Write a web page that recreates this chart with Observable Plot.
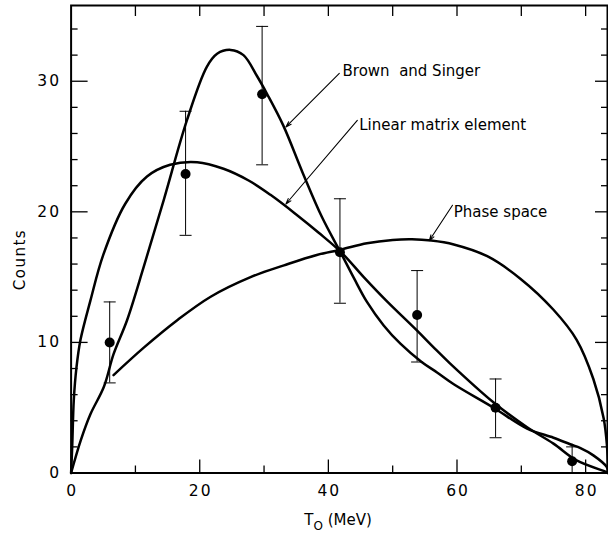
<!DOCTYPE html>
<html><head><meta charset="utf-8">
<script src="https://cdn.jsdelivr.net/npm/d3@7"></script>
<script src="https://cdn.jsdelivr.net/npm/@observablehq/plot@0.6"></script>
<style>
body{margin:0;background:#fff;}
#chart svg{display:block;}
</style></head><body><div id="chart"></div>
<script>
// Brown and Singer curve
const bsX = [0, 1.5, 3.0, 5.1, 6.6, 8.7, 11.3, 14.4, 18.0, 21.1, 22.7, 24.8, 26.8, 28.9, 30.5, 33.0, 36.0, 39.0, 42.0, 44.0, 46.0, 48.6, 51.2, 54.5, 56.9, 59.5, 65.7, 70.9, 75.0, 77.6, 79.2, 81.2, 83.3, 83.5];
const bsY = [0, 2.5, 4.5, 6.6, 9.1, 11.7, 15.8, 20.9, 27.0, 31.1, 32.1, 32.4, 32.0, 30.4, 29.0, 26.6, 23.0, 19.6, 16.8, 14.9, 13.1, 11.3, 9.9, 8.5, 7.7, 6.8, 5.0, 3.4, 2.7, 2.2, 1.9, 1.35, 0.45, 0];
// Linear matrix element curve
const lmX = [0, 0.17, 0.42, 0.84, 1.46, 3.0, 5.0, 8.4, 11.8, 15.4, 19.6, 23.7, 27.6, 31.0, 35.0, 38.5, 42.0, 45.5, 49.0, 53.8, 56.4, 58.9, 65.7, 70.9, 75.0, 78.6, 83.3, 83.5];
const lmY = [0, 2.0, 5.6, 8.1, 10.2, 13.2, 16.7, 20.6, 22.7, 23.6, 23.8, 23.3, 22.4, 21.3, 19.8, 18.4, 16.9, 15.0, 13.2, 10.9, 9.6, 8.4, 5.4, 3.5, 2.25, 0.96, 0.06, 0];
// Phase space curve
const psX = [6.6, 11.3, 16.5, 21.7, 27.9, 33.1, 38.2, 41.9, 46.0, 50.0, 53.0, 56.0, 59.5, 64.7, 69.8, 75.0, 78.6, 81.2, 82.8, 83.3, 83.5];
const psY = [7.5, 9.6, 11.7, 13.5, 15.0, 15.9, 16.7, 17.1, 17.6, 17.85, 17.9, 17.8, 17.5, 16.6, 14.9, 12.5, 10.2, 7.2, 4.2, 2.2, 0];

// Measured counts with error bars
const pointX = [6, 17.8, 29.7, 41.8, 53.8, 66, 77.9];
const pointY = [10, 22.9, 29, 16.9, 12.1, 5, 0.9];
const errLo = [6.9, 18.2, 23.6, 13.0, 8.5, 2.7, 0];
const errHi = [13.1, 27.7, 34.2, 21.0, 15.5, 7.2, 2.0];

// Annotations
const noteText = ["Brown  and Singer", "Linear matrix element", "Phase space"];
const noteX = [42.2, 44.8, 59.5];
const noteY = [30.8, 26.6, 20.0];
const arrowX1 = [41.7, 44.5, 59.3];
const arrowY1 = [30.6, 27.0, 20.5];
const arrowX2 = [33.4, 33.4, 55.7];
const arrowY2 = [26.5, 20.6, 17.8];

// Ticks
const xLabelTicks = [0, 20, 40, 60, 80];
const xMajorTicks = [20, 40, 60, 80];
const xMinorTicks = [10, 30, 50, 70];
const xTopTicks = [10, 20, 30, 40, 50, 60, 70, 80];
const yLabelTicks = [0, 10, 20, 30];
const yMajorTicks = [10, 20, 30];
const yMinorTicks = [2, 4, 6, 8, 12, 14, 16, 18, 22, 24, 26, 28, 32, 34];

const curve = (xs, ys) => xs.map((x, i) => ({x, y: ys[i]}));
const bs = curve(bsX, bsY);
const lm = curve(lmX, lmY);
const ps = curve(psX, psY);
const points = pointX.map((x, i) => ({x, y: pointY[i], lo: errLo[i], hi: errHi[i]}));
const notes = noteText.map((t, i) => ({t, x: noteX[i], y: noteY[i], x1: arrowX1[i], y1: arrowY1[i], x2: arrowX2[i], y2: arrowY2[i]}));

const W = 608, H = 536, mL = 70.6, mR = 1, mT = 5, mB = 63.5;
const fw = W - mL - mR, fh = H - mT - mB;
const FONT = "DejaVu Sans";
const capSymbol = {draw(ctx) { ctx.moveTo(-6, 0); ctx.lineTo(6, 0); }};

const plot = Plot.plot({
  width: W, height: H,
  marginLeft: mL, marginRight: mR, marginTop: mT, marginBottom: mB,
  x: {domain: [0, 83.4], axis: null},
  y: {domain: [0, 35.8], axis: null},
  style: {fontFamily: FONT, fontSize: "15px", background: "white", color: "black"},
  marks: [
    // inward ticks
    Plot.tickX(xMajorTicks, {x: d => d, insetTop: fh - 13, stroke: "black", strokeWidth: 1.3}),
    Plot.tickX(xMinorTicks, {x: d => d, insetTop: fh - 7, stroke: "black", strokeWidth: 1.3}),
    Plot.tickX(xTopTicks, {x: d => d, insetBottom: fh - 11, stroke: "black", strokeWidth: 1.3}),
    Plot.tickY(yMajorTicks, {y: d => d, insetRight: fw - 17, stroke: "black", strokeWidth: 1.3}),
    Plot.tickY(yMinorTicks, {y: d => d, insetRight: fw - 7, stroke: "black", strokeWidth: 1.3}),
    Plot.tickY(yMajorTicks, {y: d => d, insetLeft: fw - 12, stroke: "black", strokeWidth: 1.3}),
    Plot.tickY(yMinorTicks, {y: d => d, insetLeft: fw - 6, stroke: "black", strokeWidth: 1.3}),
    // tick labels
    Plot.axisX(xLabelTicks, {anchor: "bottom", tickSize: 0, tickPadding: 12, fontSize: 15.5, label: null, dx: 1}),
    Plot.axisY(yLabelTicks, {anchor: "left", tickSize: 0, tickPadding: 10, fontSize: 15.5, label: null}),
    // curves
    Plot.line(bs, {x: "x", y: "y", curve: "catmull-rom", stroke: "black", strokeWidth: 2.5}),
    Plot.line(lm, {x: "x", y: "y", curve: "catmull-rom", stroke: "black", strokeWidth: 2.5}),
    Plot.line(ps, {x: "x", y: "y", curve: "catmull-rom", stroke: "black", strokeWidth: 2.5}),
    // error bars
    Plot.ruleX(points, {x: "x", y1: "lo", y2: "hi", stroke: "black", strokeWidth: 1}),
    Plot.dot(points, {x: "x", y: "hi", symbol: capSymbol, stroke: "black", strokeWidth: 1, fill: "none"}),
    Plot.dot(points.filter(d => d.lo > 0), {x: "x", y: "lo", symbol: capSymbol, stroke: "black", strokeWidth: 1, fill: "none"}),
    Plot.dot(points, {x: "x", y: "y", r: 5, fill: "black", stroke: "none"}),
    // annotations
    Plot.arrow(notes, {x1: "x1", y1: "y1", x2: "x2", y2: "y2", stroke: "black", strokeWidth: 1.1, headLength: 8, headAngle: 35}),
    Plot.text(notes, {x: "x", y: "y", text: "t", textAnchor: "start", fontSize: 15, fill: "black"}),
    Plot.text(["Counts"], {frameAnchor: "left", y: 14, dx: -50.6, rotate: -90, fontSize: 15, fill: "black"}),
    Plot.frame({stroke: "black", strokeWidth: 2})
  ]
});

const svg = d3.select(plot);
svg.selectAll('g[aria-label="x-axis tick label"] text, g[aria-label="y-axis tick label"] text').attr("letter-spacing", "2px");
svg.selectAll('g[aria-label="text"] text').filter(function() { return this.textContent === "Counts"; }).attr("letter-spacing", "1.5px");
const t = svg.append("text")
  .attr("x", 338).attr("y", 525)
  .attr("text-anchor", "middle")
  .attr("font-family", FONT).attr("font-size", 15).attr("fill", "black");
t.append("tspan").text("T");
t.append("tspan").attr("dy", 5).attr("font-size", 12).text("O");
t.append("tspan").attr("dy", -5).text(" (MeV)");

document.getElementById("chart").appendChild(plot);
</script></body></html>
